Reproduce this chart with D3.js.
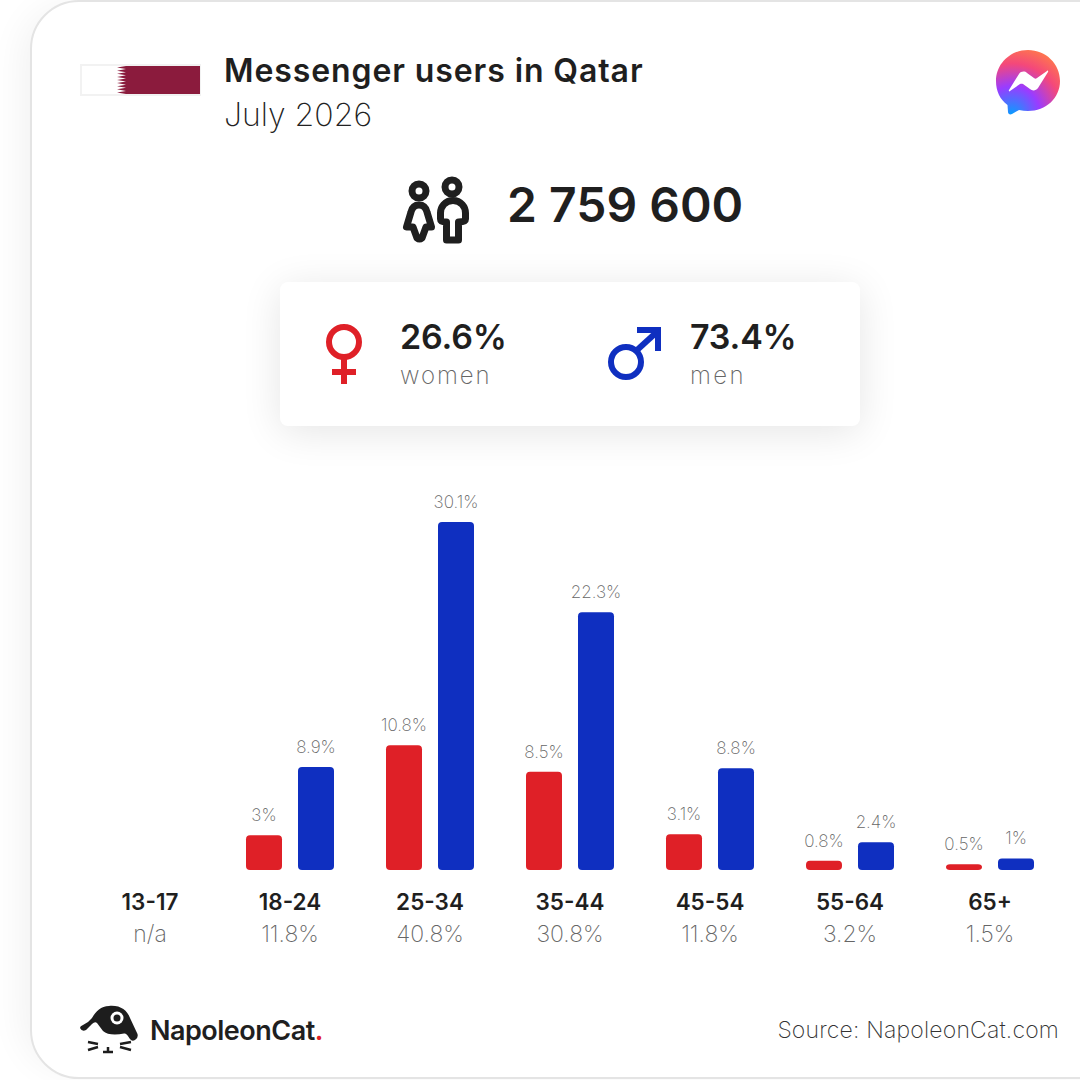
<!DOCTYPE html>
<html>
<head>
<meta charset="utf-8">
<script src="https://cdn.jsdelivr.net/npm/d3@7"></script>
<style>
html, body { margin: 0; padding: 0; background: #fff; overflow: hidden; }
svg { display: block; }
text { font-family: Inter, "Open Sans", sans-serif; }
</style>
</head>
<body>
<div id="chart-area"></div>
<script>
var ageGroups = ['13-17', '18-24', '25-34', '35-44', '45-54', '55-64', '65+'];
var ageTotals = ['n/a', '11.8%', '40.8%', '30.8%', '11.8%', '3.2%', '1.5%'];
var womenValues = [null, 3, 10.8, 8.5, 3.1, 0.8, 0.5];
var menValues = [null, 8.9, 30.1, 22.3, 8.8, 2.4, 1];
var womenLabels = ['', '3%', '10.8%', '8.5%', '3.1%', '0.8%', '0.5%'];
var menLabels = ['', '8.9%', '30.1%', '22.3%', '8.8%', '2.4%', '1%'];
var seriesNames = ['women', 'men'];
var seriesColors = ['#df2027', '#0f2fc0'];

var dark = '#1f1f1f';
var grey = '#666';

var svg = d3.select('#chart-area').append('svg')
	.attr('width', 1080)
	.attr('height', 1080);

var defs = svg.append('defs');

var cardShadow = defs.append('filter').attr('id', 'card-shadow')
	.attr('x', '-20%').attr('y', '-20%').attr('width', '140%').attr('height', '140%');
cardShadow.append('feGaussianBlur').attr('stdDeviation', 18);

var boxShadow = defs.append('filter').attr('id', 'box-shadow')
	.attr('x', '-20%').attr('y', '-50%').attr('width', '140%').attr('height', '200%');
boxShadow.append('feGaussianBlur').attr('stdDeviation', 20);

var msgGrad = defs.append('radialGradient').attr('id', 'msg-grad')
	.attr('gradientUnits', 'userSpaceOnUse')
	.attr('cx', 1012).attr('cy', 114).attr('r', 70);
msgGrad.append('stop').attr('offset', '0').attr('stop-color', '#0a9cff');
msgGrad.append('stop').attr('offset', '0.4').attr('stop-color', '#9a3cff');
msgGrad.append('stop').attr('offset', '0.72').attr('stop-color', '#f4487a');
msgGrad.append('stop').attr('offset', '1').attr('stop-color', '#ff7a4a');

// card
svg.append('rect').attr('x', 22).attr('y', 6).attr('width', 1100).attr('height', 1064).attr('rx', 50)
	.attr('fill', '#000').attr('opacity', 0.05).attr('filter', 'url(#card-shadow)');
svg.append('rect').attr('x', 31).attr('y', 1).attr('width', 1100).attr('height', 1077).attr('rx', 48)
	.attr('fill', '#fff').attr('stroke', '#e4e4e4').attr('stroke-width', 2);

// flag
var flag = svg.append('g').attr('transform', 'translate(80, 64)');
flag.append('rect').attr('x', 1).attr('y', 1).attr('width', 119).attr('height', 30)
	.attr('fill', '#fff').attr('stroke', '#f2f2f2').attr('stroke-width', 2);
var teeth = 'M120 2 H46';
for (var i = 0; i < 9; i++) {
	teeth += ' L37 ' + (2 + (i + 0.5) * 28 / 9) + ' L46 ' + (2 + (i + 1) * 28 / 9);
}
flag.append('path').attr('d', teeth + ' H120 Z').attr('fill', '#8b1b3d');

// title
svg.append('text').attr('x', 224).attr('y', 82).attr('font-size', 32).attr('font-weight', 600)
	.attr('letter-spacing', 0.9).attr('fill', dark).text('Messenger users in Qatar');
svg.append('text').attr('x', 224).attr('y', 126).attr('font-size', 32).attr('font-weight', 200)
	.attr('fill', '#222').text('July 2026');

// messenger icon
var msg = svg.append('g');
msg.append('path')
	.attr('d', 'M1028 50 C1046 50 1060 64 1060 81 C1060 98 1046 111 1028 111 C1025 111 1022 110.600 1019 110 L1012 114 C1010 115 1008 114 1008 112 L1007.500 105 C1000 99.500 996 91 996 81 C996 64 1010 50 1028 50 Z')
	.attr('fill', 'url(#msg-grad)');
msg.append('path')
	.attr('d', 'M1009 90 L1019 74 C1021 71 1025 71 1027 73 L1034 78 C1035 79 1036 79 1037 78 L1047 71 C1048 70 1048.500 71 1048 72 L1038 88 C1036 91 1032 91 1030 89 L1023 84 C1022 83.500 1021 83.500 1020 84 L1010 91 C1009 92 1008.500 91 1009 90 Z')
	.attr('fill', '#fff');

// people icon
var people = svg.append('g').attr('fill', 'none').attr('stroke', dark).attr('stroke-width', 7)
	.attr('stroke-linejoin', 'round').attr('stroke-linecap', 'round');
people.append('circle').attr('cx', 419).attr('cy', 191).attr('r', 7);
people.append('path').attr('d', 'M419 205 C414 205 412 208 411 212 L406.500 227 L413 227 L417 238 Q419.500 240 422 238 L426 227 L431.500 227 L427 212 C426 208 424 205 419 205 Z');
people.append('circle').attr('cx', 452).attr('cy', 187).attr('r', 7);
people.append('path').attr('d', 'M453 200.500 C445 200.500 440.500 207 440.500 213 L440.500 219 C440.500 221 442 222 446.500 222 L446.500 240 L458.500 240 L458.500 222 C464 222 465.500 221 465.500 219 L465.500 213 C465.500 207 461 200.500 453 200.500 Z');

svg.append('text').attr('x', 507).attr('y', 222).attr('font-size', 48).attr('font-weight', 600)
	.attr('fill', dark).text('2 759 600');

// gender box
svg.append('rect').attr('x', 280).attr('y', 288).attr('width', 580).attr('height', 144).attr('rx', 8)
	.attr('fill', '#000').attr('opacity', 0.1).attr('filter', 'url(#box-shadow)');
svg.append('rect').attr('x', 280).attr('y', 282).attr('width', 580).attr('height', 144).attr('rx', 8)
	.attr('fill', '#fff');

var female = svg.append('g').attr('fill', 'none').attr('stroke', seriesColors[0]).attr('stroke-width', 6);
female.append('circle').attr('cx', 344).attr('cy', 342).attr('r', 15);
female.append('path').attr('d', 'M344 357 V384 M332 372 H356');

var male = svg.append('g').attr('fill', 'none').attr('stroke', seriesColors[1]).attr('stroke-width', 6);
male.append('circle').attr('cx', 626).attr('cy', 362).attr('r', 15);
male.append('path').attr('d', 'M636 351 L659 330');
male.append('path').attr('d', 'M637 327 H661 V351 H655 V333 H637 Z').attr('fill', seriesColors[1]).attr('stroke', 'none');

svg.append('text').attr('x', 400).attr('y', 349).attr('font-size', 34).attr('font-weight', 600).attr('letter-spacing', -0.2).attr('fill', dark).text('26.6%');
svg.append('text').attr('x', 400).attr('y', 384).attr('font-size', 24).attr('font-weight', 200).attr('letter-spacing', 1.9).attr('fill', grey).text('women');
svg.append('text').attr('x', 690).attr('y', 349).attr('font-size', 34).attr('font-weight', 600).attr('letter-spacing', -0.2).attr('fill', dark).text('73.4%');
svg.append('text').attr('x', 690).attr('y', 384).attr('font-size', 24).attr('font-weight', 200).attr('letter-spacing', 2.4).attr('fill', grey).text('men');

// bars
var x = d3.scaleBand().domain(ageGroups).range([80, 1060]);
var xSeries = d3.scaleBand().domain(seriesNames).range([-44, 44]).paddingInner(16 / 52);
var y = d3.scaleLinear().domain([0, 30.1]).range([870, 522]);

var barData = [];
ageGroups.forEach(function (age, i) {
	if (womenValues[i] !== null) barData.push({ age: age, series: 'women', value: womenValues[i], label: womenLabels[i] });
	if (menValues[i] !== null) barData.push({ age: age, series: 'men', value: menValues[i], label: menLabels[i] });
});
var colorOf = d3.scaleOrdinal().domain(seriesNames).range(seriesColors);
function barX(d) { return x(d.age) + x.bandwidth() / 2 + xSeries(d.series); }

svg.append('g').selectAll('rect').data(barData).enter().append('rect')
	.attr('x', barX)
	.attr('y', function (d) { return y(d.value); })
	.attr('width', xSeries.bandwidth())
	.attr('height', function (d) { return y(0) - y(d.value); })
	.attr('rx', 4)
	.attr('fill', function (d) { return colorOf(d.series); });

svg.append('g').selectAll('text').data(barData).enter().append('text')
	.attr('x', function (d) { return barX(d) + xSeries.bandwidth() / 2; })
	.attr('y', function (d) { return y(d.value) - 14; })
	.attr('text-anchor', 'middle')
	.attr('font-size', 17)
	.attr('font-weight', 200)
	.attr('fill', grey)
	.text(function (d) { return d.label; });

// age labels
var xAxis = svg.append('g').attr('class', 'x-axis').attr('transform', 'translate(0, 870)')
	.call(d3.axisBottom(x).tickSize(0).tickPadding(24));
xAxis.select('.domain').remove();
xAxis.selectAll('text')
	.attr('font-size', 22.500)
	.attr('font-weight', 600)
	.attr('fill', dark)
	.style('font-family', 'Inter, "Open Sans", sans-serif');

svg.append('g').selectAll('text').data(ageGroups).enter().append('text')
	.attr('x', function (d) { return x(d) + x.bandwidth() / 2; })
	.attr('y', 942)
	.attr('text-anchor', 'middle')
	.attr('font-size', 23)
	.attr('font-weight', 200)
	.attr('fill', grey)
	.text(function (d, i) { return ageTotals[i]; });

// logo
var logo = svg.append('g');
logo.append('path')
	.attr('d', 'M80 1028 Q80 1026 83 1025 Q88 1023 92 1018 C96 1011 101 1006 109 1006 C120 1005 127 1010 130 1018 L137.500 1034 Q138.500 1038 135 1040 Q132 1042 130 1039 C128 1036 127 1033.500 124 1033.500 C116 1035 107 1035 103 1031 L97 1023 Q95 1021 92 1024 L86 1030 Q82 1032 80 1028 Z')
	.attr('fill', '#1d1d1d');
logo.append('circle').attr('cx', 117).attr('cy', 1018).attr('r', 6.500).attr('fill', '#fff');
logo.append('circle').attr('cx', 117).attr('cy', 1018).attr('r', 3.500).attr('fill', '#1d1d1d');
logo.append('path')
	.attr('d', 'M88 1042 L98 1044 M88 1050 L98 1047 M131 1042 L120 1044 M131 1050 L120 1047 M108 1047 V1052 M103 1052 H113')
	.attr('stroke', '#1d1d1d').attr('stroke-width', 2.500).attr('fill', 'none');
var logoText = svg.append('text').attr('x', 150).attr('y', 1040).attr('font-size', 27).attr('font-weight', 600)
	.attr('fill', dark).attr('letter-spacing', -0.5).text('NapoleonCat');
logoText.append('tspan').attr('fill', seriesColors[0]).text('.');

svg.append('text').attr('x', 1059).attr('y', 1038).attr('text-anchor', 'end').attr('font-size', 23).attr('font-weight', 200)
	.attr('letter-spacing', 0.18).attr('fill', '#333').text('Source: NapoleonCat.com');
</script>
</body>
</html>
